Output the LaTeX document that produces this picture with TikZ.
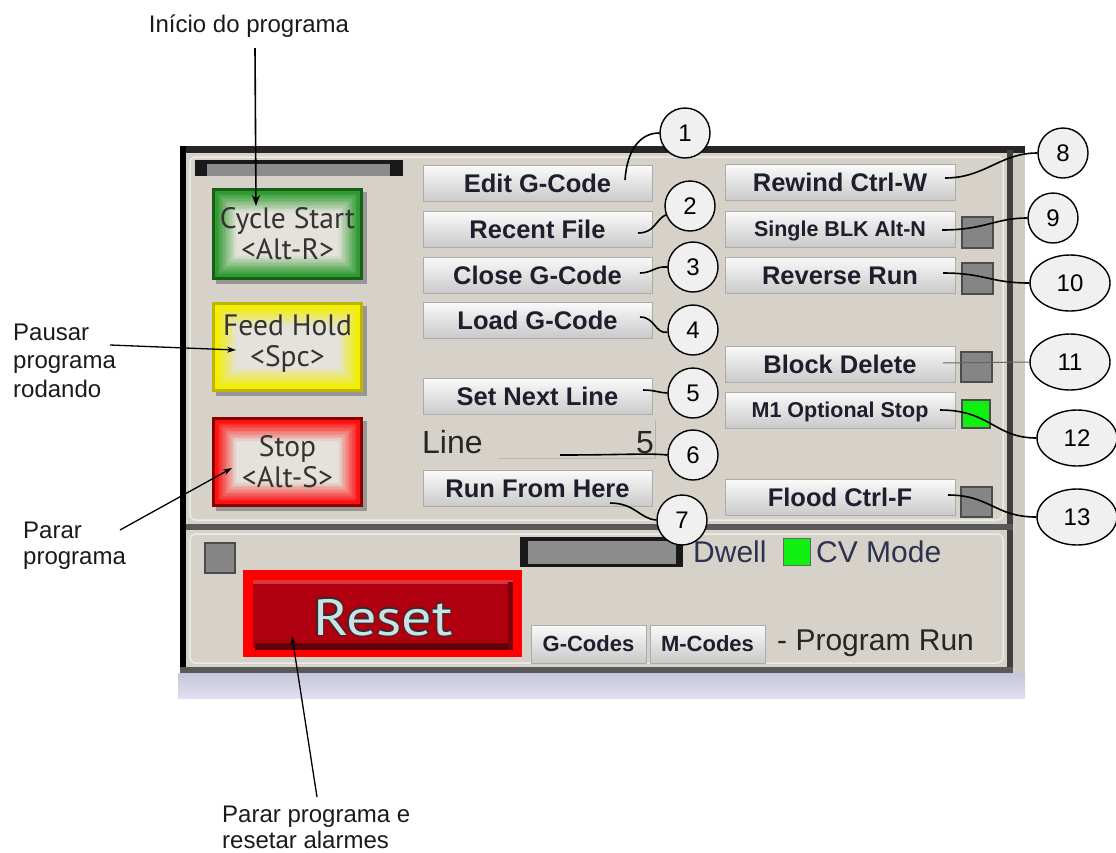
\documentclass[tikz,border=0pt]{standalone}
\usepackage{fontspec}
\usetikzlibrary{arrows.meta,shapes.geometric}
\setmainfont{Liberation Sans}
\newfontfamily\lib{Liberation Sans}
\newfontfamily\ptsans{PT Sans}
\newfontfamily\resetfam[FakeStretch=1.18]{PT Sans}
\definecolor{panelbg}{HTML}{D6D2CA}
\definecolor{btntext}{HTML}{1E1E2C}
\definecolor{lbltext}{HTML}{1A1A1A}
\definecolor{circfill}{HTML}{F0F0F0}
\definecolor{lav}{HTML}{D2D2EA}
\definecolor{strip}{HTML}{CFCCC4}
\definecolor{sqgray}{HTML}{858585}
\definecolor{ledgreen}{HTML}{10F010}
\definecolor{resetred}{HTML}{B00010}
\definecolor{rslight}{HTML}{CDE0E2}
\definecolor{rsdark}{HTML}{2A3034}
\definecolor{gEdge}{HTML}{175E17}
\definecolor{gMid}{HTML}{2F9A2F}
\definecolor{yEdge}{HTML}{BDB500}
\definecolor{yMid}{HTML}{F4EE00}
\definecolor{rEdge}{HTML}{8C0000}
\definecolor{rMid}{HTML}{FF1010}
\definecolor{glowc}{HTML}{E4E2DA}
\definecolor{dwelltext}{HTML}{2C3250}
\newcommand\glowbox[6]{%
  \fill[black!60,opacity=.55] (#1+4,#2+4) rectangle (#3+4,#4+4);
  \fill[#5] (#1,#2) rectangle (#3,#4);
  \foreach \i in {2,...,18}{%
    \pgfmathsetmacro\p{max(0,min(100,100-(\i-3)*7))}%
    \fill[#6!\p!glowc] (#1+\i*1.4,#2+\i*1.4) rectangle (#3-\i*1.4,#4-\i*1.4);
  }%
}
\newcommand\outl[1]{\leavevmode\rlap{\kern-1.3pt\textcolor{rsdark}{#1}}\rlap{\kern1.3pt\textcolor{rsdark}{#1}}\rlap{\raisebox{1.3pt}{\textcolor{rsdark}{#1}}}\rlap{\raisebox{-1.3pt}{\textcolor{rsdark}{#1}}}\textcolor{rslight}{#1}}
\begin{document}
\begin{tikzpicture}[x=1pt,y=-1pt,
  btn/.style={rectangle, top color=gray!4, bottom color=gray!42, draw=gray!65, line width=1pt,
    minimum width=229pt, minimum height=36pt, inner sep=0pt, text=btntext,
    font=\lib\bfseries\fontsize{25.5}{25.5}\selectfont, text height=18.4pt, text depth=0pt},
  btnsmall/.style={btn, font=\lib\bfseries\fontsize{21.5}{21.5}\selectfont, text height=15.5pt},
  btncode/.style={btn, minimum width=115pt, minimum height=38pt, font=\lib\bfseries\fontsize{22}{22}\selectfont, text height=15.8pt},
  bigtxt/.style={align=center, inner sep=0pt, text=black!80, font=\ptsans\fontsize{29.5}{31}\selectfont},
  num/.style={circle, draw=black, line width=1.4pt, fill=circfill, minimum size=50pt, inner sep=0pt,
    font=\lib\fontsize{24}{24}\selectfont},
  numell/.style={ellipse, draw=black, line width=1.4pt, fill=circfill, minimum width=80pt, minimum height=56pt,
    inner sep=0pt, font=\lib\fontsize{24}{24}\selectfont},
  conn/.style={line width=1.6pt, black},
  lbl/.style={align=left, inner sep=0pt, text=lbltext, font=\lib\fontsize{24}{27}\selectfont},
  ptr/.style={line width=1.3pt, black, -{Stealth[length=11pt,width=8pt]}},
  sq/.style={fill=sqgray, draw=black!70, line width=1.2pt},
  bigfont/.style={inner sep=0pt, font=\lib\fontsize{30}{30}\selectfont}
]
\useasboundingbox (0,0) rectangle (1116,852);
\fill[white] (0,0) rectangle (1116,852);

% ---- panel frame
\fill[strip] (1010,147) rectangle (1025,673);
\fill[panelbg] (180,147) rectangle (1013,673);
\fill[black!85] (180,146) rectangle (1025,153);
\fill[black] (180,146) rectangle (186,673);
\fill[black!75] (1007,150) rectangle (1013,673);
\fill[black!65] (186,524) rectangle (1013,530);
\fill[black!65] (180,667) rectangle (1013,673);
\fill[top color=lav!85!gray, bottom color=lav!70!white] (178,673) rectangle (1025,698);
\draw[white!55!panelbg, line width=1.5pt, rounded corners=6pt] (190,157) rectangle (1003,520);
\draw[white!55!panelbg, line width=1.5pt, rounded corners=6pt] (190,534) rectangle (1003,663);

% ---- top bar
\fill[black!90] (195,160) rectangle (403,176);
\fill[black!45] (207,164) rectangle (390,176);

% ---- glowing buttons
\glowbox{212}{188}{363}{280}{gEdge}{gMid}
\glowbox{212}{302}{363}{392}{yEdge}{yMid}
\glowbox{212}{417}{363}{507}{rEdge}{rMid}
\node[bigtxt] (cycle) at (287.5,234) {Cycle Start\\<Alt-R>};
\node[bigtxt] (feed) at (287.5,344) {Feed Hold\\<Spc>};
\node[bigtxt] (stop) at (287.5,462) {Stop\\<Alt-S>};

% ---- column 1 buttons
\node[btn] (edit) at (537.5,183.5) {Edit G-Code};
\node[btn] (recent) at (537.5,229.5) {Recent File};
\node[btn] (close) at (537.5,275) {Close G-Code};
\node[btn] (load) at (537.5,320) {Load G-Code};
\node[btn] (setnext) at (537.5,396.5) {Set Next Line};
\node[btn] (runhere) at (537.5,488.5) {Run From Here};
\node[inner sep=0pt, anchor=base west, text=black!85, font=\lib\fontsize{32}{32}\selectfont] (linelbl) at (422,453) {Line};
\node[inner sep=0pt, anchor=base east, text=black!85, font=\lib\fontsize{32}{32}\selectfont] (lineval) at (654,453) {5};
\draw[gray!55, line width=1pt] (498,458) -- (656,458);
\draw[gray!60, line width=1pt] (655.5,420) -- (655.5,458);

% ---- column 2 buttons
\node[btn, minimum width=230pt] (rewind) at (840,182.5) {Rewind Ctrl-W};
\node[btnsmall, minimum width=230pt] (single) at (840,229) {Single BLK Alt-N};
\node[btn, minimum width=230pt] (reverse) at (840,275) {Reverse Run};
\node[btn, minimum width=230pt] (blockdel) at (840,364) {Block Delete};
\node[btnsmall, minimum width=230pt] (mone) at (840,410) {M1 Optional Stop};
\node[btn, minimum width=230pt] (flood) at (840,497.5) {Flood Ctrl-F};
\draw[sq] (962,217) rectangle (993,248);
\draw[sq] (962,263) rectangle (993,294);
\draw[sq] (961,352) rectangle (992,382);
\draw[fill=ledgreen, draw=black!70, line width=1.2pt] (962,400) rectangle (990,428);
\draw[sq] (961,487) rectangle (992,517);

% ---- lower panel
\draw[sq] (205,543) rectangle (235,573);
\fill[red] (243,570) rectangle (522,657);
\fill[resetred] (253,580) rectangle (513,648);
\fill[red!45!resetred!80!white] (253,580) rectangle (513,584);
\fill[resetred!55!black] (255,643) rectangle (513,650);
\fill[resetred!70!black] (508,582) rectangle (513,650);
\node[anchor=base, inner sep=0pt, font=\resetfam\fontsize{51}{51}\selectfont] (reset) at (383,635) {\outl{Reset}};
\fill[black!90] (520,537) rectangle (683,567);
\fill[black!45] (528,541) rectangle (676,564);
\node[bigfont, anchor=west, text=dwelltext] (dwell) at (693,552) {Dwell};
\draw[fill=ledgreen, draw=black!60, line width=1pt] (783,538) rectangle (810,565);
\node[bigfont, anchor=west, text=dwelltext] (cvmode) at (816,552) {CV Mode};
\node[btncode] (gcodes) at (588.5,644) {G-Codes};
\node[btncode] (mcodes) at (707.5,644) {M-Codes};
\node[bigfont, anchor=west, text=black!85] (progrun) at (777,643) {- Program Run};

% ---- connector start points
\coordinate (p1) at (625,180);
\coordinate (p2) at (638,233);
\coordinate (p3) at (640,273);
\coordinate (p4) at (640,317);
\coordinate (p5) at (643,390);
\coordinate (p6) at (560,455);
\coordinate (p7) at (610,503);
\coordinate (p8) at (945,178);
\coordinate (p9) at (942,230);
\coordinate (p10) at (943,273);
\coordinate (p11) at (943,363);
\coordinate (p12) at (940,410);
\coordinate (p13) at (948,495);

% ---- callout circles
\node[num] (c1) at (685,133) {1};
\node[num] (c2) at (690,206) {2};
\node[num] (c3) at (693,267) {3};
\node[num] (c4) at (693,330) {4};
\node[num] (c5) at (693,393) {5};
\node[num] (c6) at (693,455) {6};
\node[num] (c7) at (682,520) {7};
\node[num] (c8) at (1063,153) {8};
\node[num] (c9) at (1053,218) {9};
\node[numell] (c10) at (1070,283) {10};
\node[numell] (c11) at (1070,362) {11};
\node[numell] (c12) at (1077,438) {12};
\node[numell] (c13) at (1077,517) {13};

\draw[conn] (p1) .. controls (627,150) and (640,133) .. (c1.west);
\draw[conn] (p2) .. controls (655,233) and (655,220) .. (c2.200);
\draw[conn] (p3) .. controls (652,273) and (655,266) .. (c3.west);
\draw[conn] (p4) .. controls (655,317) and (655,334) .. (c4.185);
\draw[conn] (p5) .. controls (655,390) and (660,393) .. (c5.west);
\draw[conn] (p6) .. controls (620,455) and (650,453) .. (c6.west);
\draw[conn] (p7) .. controls (635,503) and (640,519) .. (c7.west);
\draw[conn] (p8) .. controls (985,178) and (1000,153) .. (c8.west);
\draw[conn] (p9) .. controls (985,230) and (995,218) .. (c9.west);
\draw[conn] (p10) .. controls (985,273) and (990,283) .. (c10.west);
\draw[line width=1pt, black!60] (p11) -- (c11.west);
\draw[conn] (p12) .. controls (990,410) and (995,438) .. (c12.west);
\draw[conn] (p13) .. controls (990,495) and (995,517) .. (c13.west);

% ---- annotation labels (base anchor = last line)
\node[lbl, anchor=base] (title) at (249,32) {Início do programa};
\node[lbl, anchor=base west, font=\lib\fontsize{24}{28.5}\selectfont] (pausar) at (13,397) {Pausar\\programa\\rodando};
\node[lbl, anchor=base west, font=\lib\fontsize{24}{26}\selectfont] (parar) at (23,564) {Parar\\programa};
\node[lbl, anchor=base west, font=\lib\fontsize{24}{26}\selectfont] (pararreset) at (222,848) {Parar programa e\\resetar alarmes};

\coordinate (cycleHit) at (256,206);
\coordinate (pausarFrom) at (110,345);
\coordinate (feedHit) at (236,350);
\coordinate (pararFrom) at (120,530);
\coordinate (stopHit) at (232,468);
\coordinate (resetFrom) at (317,797);
\coordinate (resetHit) at (292,636);
\draw[ptr, line width=1.6pt] ([xshift=6pt,yshift=-11pt]title.south) -- (cycleHit);
\draw[ptr, -{Stealth[length=9pt,width=6pt]}] (pausarFrom) -- (feedHit);
\draw[ptr, -{Stealth[length=9pt,width=6pt]}] (pararFrom) -- (stopHit);
\draw[ptr, -{Stealth[length=9pt,width=6pt]}] (resetFrom) -- (resetHit);
\end{tikzpicture}
\end{document}
